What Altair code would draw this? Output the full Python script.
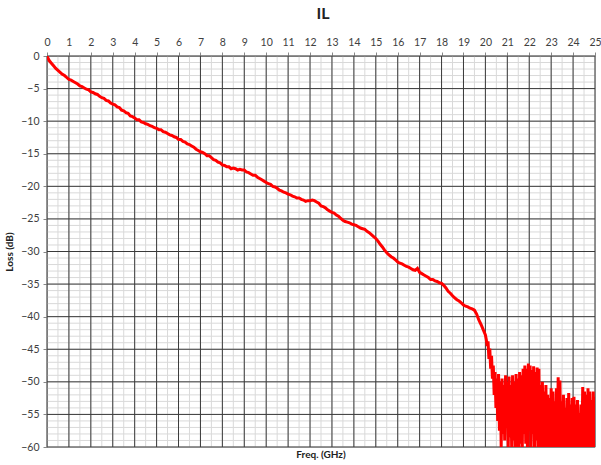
import altair as alt
import pandas as pd

# Insertion loss, 0.0 .. 19.9 GHz in 0.1 GHz steps
loss_smooth = [
    0.0, -0.7, -1.1, -1.5, -1.9, -2.2, -2.5, -2.8, -3.0, -3.3,
    -3.6, -3.7, -3.9, -4.1, -4.3, -4.6, -4.7, -4.9, -5.1, -5.2,
    -5.5, -5.6, -5.8, -5.9, -6.2, -6.4, -6.5, -6.8, -6.9, -7.2,
    -7.4, -7.5, -7.8, -7.9, -8.3, -8.4, -8.7, -8.8, -9.2, -9.3,
    -9.5, -9.8, -9.8, -10.1, -10.2, -10.4, -10.5, -10.7, -10.8, -11.0,
    -11.1, -11.3, -11.3, -11.6, -11.7, -11.9, -12.1, -12.2, -12.4, -12.5,
    -12.8, -12.8, -13.1, -13.2, -13.5, -13.6, -13.8, -14.0, -14.3, -14.5,
    -14.7, -14.8, -15.0, -15.3, -15.3, -15.6, -15.9, -16.0, -16.3, -16.4,
    -16.7, -16.8, -17.0, -17.0, -17.3, -17.2, -17.3, -17.5, -17.4, -17.5,
    -17.5, -17.8, -17.9, -18.1, -18.3, -18.3, -18.6, -18.8, -19.0, -19.2,
    -19.4, -19.6, -19.7, -20.0, -20.1, -20.3, -20.6, -20.7, -20.9, -21.0,
    -21.2, -21.3, -21.5, -21.6, -21.8, -21.8, -22.0, -22.1, -22.3, -22.2,
    -22.2, -22.1, -22.2, -22.4, -22.6, -23.0, -23.1, -23.3, -23.6, -23.8,
    -24.0, -24.1, -24.4, -24.6, -24.9, -25.2, -25.4, -25.5, -25.6, -25.8,
    -25.9, -26.0, -26.2, -26.4, -26.5, -26.6, -26.9, -27.1, -27.4, -27.7,
    -28.0, -28.4, -28.9, -29.3, -29.8, -30.2, -30.5, -30.8, -31.0, -31.3,
    -31.6, -31.8, -31.9, -32.1, -32.3, -32.4, -32.6, -32.8, -32.9, -32.6,
    -33.2, -33.4, -33.6, -33.8, -34.0, -34.3, -34.3, -34.5, -34.6, -34.8,
    -34.9, -35.2, -35.6, -36.1, -36.4, -36.8, -37.1, -37.4, -37.6, -37.9,
    -38.2, -38.4, -38.5, -38.7, -38.8, -39.0, -39.6, -40.5, -41.2, -42.0,
]

# Insertion loss, 20.00 .. 25.00 GHz in 0.04 GHz steps (noise floor region)
loss_noisy = [
    -42.8, -43.5, -44.5, -43.8, -46.5, -44.9, -48.0, -46.0, -49.5, -47.5,
    -52.0, -48.5, -54.0, -49.5, -56.0, -48.8, -57.5, -50.0, -60.0, -49.5,
    -58.0, -50.5, -59.0, -49.0, -57.0, -50.0, -60.5, -49.2, -58.5, -50.5,
    -60.5, -49.0, -59.0, -50.0, -61.0, -48.8, -60.5, -49.5, -61.0, -48.5,
    -59.5, -49.0, -61.0, -48.0, -58.0, -47.5, -59.5, -48.0, -61.0, -47.2,
    -57.5, -47.5, -61.0, -48.2, -58.0, -47.6, -61.0, -48.5, -59.0, -47.8,
    -61.0, -48.0, -60.5, -50.5, -61.0, -50.0, -60.0, -51.5, -61.0, -50.5,
    -60.5, -52.0, -61.0, -52.5, -60.0, -51.0, -61.0, -51.5, -60.5, -53.0,
    -61.0, -51.0, -60.0, -49.3, -61.0, -49.8, -60.5, -53.0, -61.0, -52.0,
    -60.0, -54.0, -61.0, -52.5, -60.5, -51.7, -61.0, -53.5, -60.0, -52.5,
    -61.0, -52.3, -60.5, -53.5, -61.0, -52.8, -60.0, -54.8, -61.0, -53.5,
    -60.5, -50.8, -61.0, -51.5, -60.0, -52.0, -61.0, -51.0, -60.5, -51.5,
    -61.0, -52.8, -60.0, -51.5, -61.0, -52.3,
]

freq = [round(i * 0.1, 2) for i in range(len(loss_smooth))] + \
       [round(20 + i * 0.04, 2) for i in range(len(loss_noisy))]
loss = loss_smooth + loss_noisy
df = pd.DataFrame({"freq": freq, "loss": loss})

x_ticks = list(range(0, 26))
y_ticks = list(range(0, -61, -5))
x_minor = [i * 0.5 for i in range(51)]
y_minor = list(range(0, -61, -1))

FONT = "Lato"
xs = alt.Scale(domain=[0, 25], nice=False, zero=False)
ys = alt.Scale(domain=[-60, 0], nice=False, zero=False)

x_axis = alt.Axis(orient="top", values=x_ticks, grid=False,
                  labelFont=FONT, labelFontSize=10.5, labelColor="#404040",
                  tickSize=4, tickColor="#888888", labelPadding=5,
                  domainColor="#999999", labelFlush=False, labelOverlap=False)
y_axis = alt.Axis(values=y_ticks, grid=False,
                  labelFont=FONT, labelFontSize=10.5, labelColor="#404040",
                  tickSize=4, tickColor="#888888", labelPadding=4,
                  domainColor="#999999", labelFlush=False, labelOverlap=False,
                  titleFont=FONT, titleFontSize=10, titleFontWeight="bold",
                  titleColor="#222222", titlePadding=6)

X = lambda f: alt.X(f, scale=xs, axis=x_axis, title=None)
Y = lambda f: alt.Y(f, scale=ys, axis=y_axis, title="Loss (dB)")

minor_v = alt.Chart(pd.DataFrame({"freq": x_minor})).mark_rule(
    color="#d9d9d9", strokeWidth=1).encode(x=X("freq:Q"))
minor_h = alt.Chart(pd.DataFrame({"loss": y_minor})).mark_rule(
    color="#d9d9d9", strokeWidth=1).encode(y=Y("loss:Q"))
major_v = alt.Chart(pd.DataFrame({"freq": x_ticks})).mark_rule(
    color="#3a3a3a", strokeWidth=1).encode(x=X("freq:Q"))
major_h = alt.Chart(pd.DataFrame({"loss": y_ticks})).mark_rule(
    color="#3a3a3a", strokeWidth=1).encode(y=Y("loss:Q"))

line = alt.Chart(df).mark_line(color="#ff0000", strokeWidth=3, clip=True).encode(
    x=X("freq:Q"), y=Y("loss:Q"), order="freq:Q",
)

title = alt.Chart(pd.DataFrame({"t": ["IL"]})).mark_text(
    font=FONT, fontSize=16, fontWeight="bold", color="#222222", baseline="middle"
).encode(text="t:N", x=alt.value(276), y=alt.value(-42))

xtitle = alt.Chart(pd.DataFrame({"t": ["Freq. (GHz)"]})).mark_text(
    font=FONT, fontSize=10, fontWeight="bold", color="#222222", baseline="middle"
).encode(text="t:N", x=alt.value(274), y=alt.value(399))

chart = alt.layer(minor_v, minor_h, major_v, major_h, line, title, xtitle).properties(
    width=548, height=391,
    autosize=alt.AutoSizeParams(type="none"),
    padding={"left": 47, "top": 56, "right": 6, "bottom": 18},
).configure_view(stroke=None).configure(background="white")

chart.save("out.html", embed_options={"renderer": "svg", "actions": False})
